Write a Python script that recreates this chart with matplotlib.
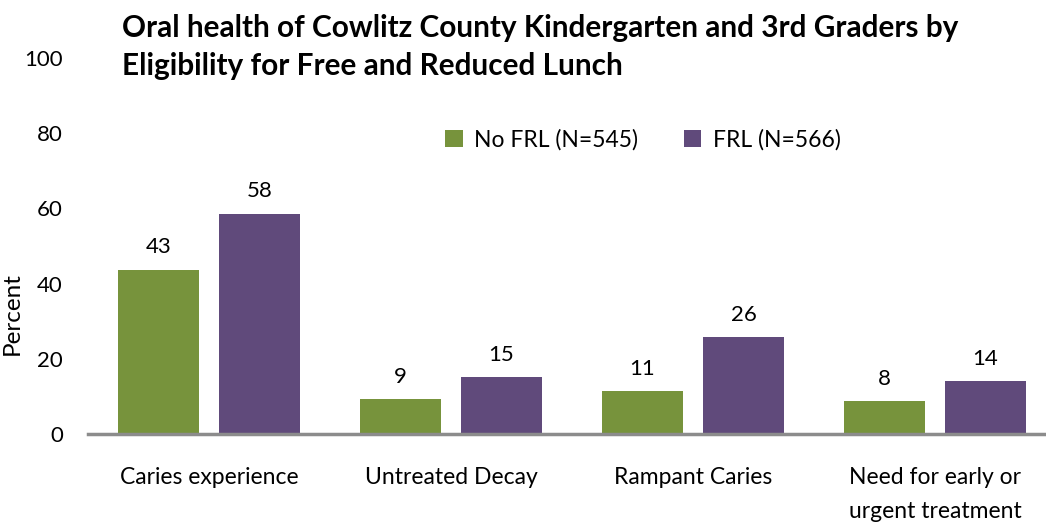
import numpy as np
import matplotlib
matplotlib.use("Agg")
import matplotlib.pyplot as plt

plt.rcParams['font.family'] = ['Lato', 'DejaVu Sans']

categories = ["Caries experience", "Untreated Decay", "Rampant Caries", "Need for early or\nurgent treatment"]
no_frl = [43.7, 9.3, 11.4, 8.7]
frl = [58.6, 15.1, 25.8, 14.1]
no_frl_labels = ["43", "9", "11", "8"]
frl_labels = ["58", "15", "26", "14"]

green = "#77933C"
purple = "#604A7B"

fig = plt.figure(figsize=(10.46, 5.23), dpi=100)
ax = fig.add_axes([88/1046, 89/523, 968/1046, 376/523])

x = np.arange(len(categories))
w = 0.335
b1 = ax.bar(x - 0.209, no_frl, w, color=green, label="No FRL (N=545)")
b2 = ax.bar(x + 0.209, frl, w, color=purple, label="FRL (N=566)")

for bars, labs in [(b1, no_frl_labels), (b2, frl_labels)]:
    for b, t in zip(bars, labs):
        ax.text(b.get_x() + b.get_width()/2, b.get_height() + 3.3, t,
                ha="center", va="bottom", fontsize=16)

ax.set_xlim(-0.5, 3.5)
ax.set_ylim(0, 100)
ax.set_yticks([0, 20, 40, 60, 80, 100])
ax.tick_params(axis="y", length=0, labelsize=16, pad=18)
ax.tick_params(axis="x", length=0, labelsize=16.5, pad=24)
ax.set_xticks(x)
ax.set_xticklabels(categories, linespacing=1.75, va="top")
for s in ["top", "right", "left"]:
    ax.spines[s].set_visible(False)
ax.spines["bottom"].set_color("#8C8C8C")
ax.spines["bottom"].set_linewidth(2.5)
fig.text(12/1046, 1 - 314/523, "Percent", rotation=90, ha="center", va="center", fontsize=17.5)

ax.legend(loc="center", bbox_to_anchor=(643/1046, 1 - 140/523), bbox_transform=fig.transFigure,
          ncol=2, frameon=False, fontsize=16.5, handlelength=0.75, handleheight=0.75,
          columnspacing=2.0, handletextpad=0.5)

fig.text(122/1046, 1 - 47/523, "Oral health of Cowlitz County Kindergarten and 3rd Graders by\nEligibility for Free and Reduced Lunch",
         ha="left", va="center", fontsize=21.4, fontweight="bold", linespacing=1.45)

fig.savefig("out.png", dpi=100)
